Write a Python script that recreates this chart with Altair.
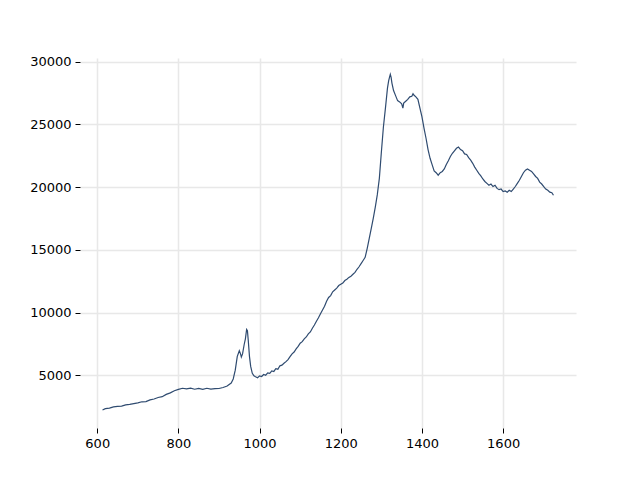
import altair as alt
import pandas as pd

wavenumber = [
    613, 620, 630, 640, 650, 660, 670, 680, 690, 700, 710, 720, 730, 740, 750,
    760, 770, 780, 790, 800, 810, 820, 830, 840, 850, 860, 870, 880, 890, 900,
    910, 920, 930, 935, 940, 945, 950, 953, 955, 958, 962, 965, 968, 970, 972,
    975, 978, 982, 986, 990, 995, 1000, 1005, 1010, 1015, 1020, 1025, 1030, 1035,
    1040, 1045, 1050, 1055, 1060, 1065, 1070, 1075, 1080, 1085, 1090, 1095, 1100,
    1105, 1110, 1115, 1120, 1125, 1130, 1135, 1140, 1145, 1150, 1155, 1160, 1165,
    1170, 1175, 1180, 1185, 1190, 1195, 1200, 1205, 1210, 1215, 1220, 1225, 1230,
    1235, 1240, 1245, 1250, 1255, 1260, 1265, 1270, 1275, 1280, 1285, 1290, 1295,
    1300, 1305, 1310, 1315, 1318, 1320, 1322, 1324, 1326, 1330, 1335, 1340, 1345,
    1350, 1353, 1355, 1360, 1365, 1370, 1375, 1378, 1380, 1385, 1390, 1395, 1400,
    1405, 1410, 1415, 1420, 1425, 1430, 1435, 1440, 1445, 1450, 1455, 1460, 1465,
    1470, 1475, 1480, 1485, 1490, 1495, 1500, 1505, 1510, 1515, 1520, 1525, 1530,
    1535, 1540, 1545, 1550, 1555, 1560, 1565, 1570, 1575, 1580, 1585, 1590, 1595,
    1600, 1605, 1610, 1615, 1620, 1625, 1630, 1635, 1640, 1645, 1650, 1655, 1660,
    1665, 1670, 1675, 1680, 1685, 1690, 1695, 1700, 1705, 1710, 1715, 1720, 1724,
]

intensity = [
    2230, 2330, 2380, 2470, 2510, 2540, 2640, 2680, 2740, 2790, 2880, 2900, 3030, 3100, 3220,
    3290, 3470, 3590, 3760, 3870, 3960, 3910, 3970, 3880, 3950, 3870, 3960, 3890, 3930, 3940,
    4020, 4140, 4380, 4700, 5400, 6500, 6950, 6700, 6450, 6700, 7450, 7900, 8650, 8550, 7800,
    6500, 5700, 5150, 4950, 4880, 4800, 4950, 4900, 5060, 5000, 5180, 5150, 5350, 5300,
    5520, 5480, 5750, 5800, 5950, 6080, 6250, 6480, 6700, 6850, 7100, 7300, 7550,
    7680, 7900, 8050, 8300, 8450, 8750, 9000, 9300, 9580, 9900, 10200, 10500, 10900,
    11200, 11350, 11650, 11800, 11950, 12150, 12250, 12350, 12550, 12650, 12800, 12900, 13050,
    13200, 13450, 13650, 13900, 14150, 14400, 15100, 15900, 16700, 17500, 18400, 19400, 20700,
    22800, 24800, 26300, 27900, 28500, 28750, 29000, 28750, 28300, 27700, 27300, 26900, 26800,
    26650, 26300, 26700, 26850, 27000, 27200, 27250, 27450, 27350, 27200, 27000, 26300, 25600,
    24700, 23900, 23000, 22300, 21800, 21300, 21150, 20950, 21150, 21250, 21450, 21800, 22100,
    22450, 22700, 22900, 23100, 23200, 23000, 22900, 22650, 22600, 22350, 22150, 21900, 21600,
    21350, 21100, 20900, 20650, 20450, 20300, 20150, 20250, 20050, 20150, 19900, 19800, 19850,
    19650, 19700, 19600, 19750, 19650, 19850, 20050, 20300, 20550, 20850, 21150, 21350, 21450,
    21350, 21250, 21050, 20850, 20700, 20400, 20250, 20050, 19850, 19750, 19600, 19550, 19350,
]

x_ticks = [600, 800, 1000, 1200, 1400, 1600]
y_ticks = [5000, 10000, 15000, 20000, 25000, 30000]

df = pd.DataFrame({"wavenumber": wavenumber, "intensity": intensity})

chart = alt.Chart(df).mark_line(color="#2f4b70", strokeWidth=1.2).encode(
    x=alt.X(
        "wavenumber:Q",
        scale=alt.Scale(domain=[557.5, 1779.5], nice=False, zero=False),
        axis=alt.Axis(values=x_ticks, title=None, format="d"),
    ),
    y=alt.Y(
        "intensity:Q",
        scale=alt.Scale(domain=[790, 30300], nice=False, zero=False),
        axis=alt.Axis(values=y_ticks, title=None, format="d"),
    ),
).properties(
    width=496,
    height=370,
    autosize=alt.AutoSizeParams(type="none"),
    padding={"left": 72, "top": 50, "right": 56, "bottom": 44},
).configure_view(
    stroke=None
).configure_axis(
    domain=False,
    grid=True,
    gridColor="#e8e8e8",
    gridWidth=1.5,
    ticks=True,
    tickColor="#000000",
    tickSize=5,
    tickWidth=1,
    labelFont="DejaVu Sans",
    labelFontSize=13,
    labelColor="#000000",
    labelPadding=4,
)

chart.save("out.html", embed_options={"renderer": "svg", "actions": False})
